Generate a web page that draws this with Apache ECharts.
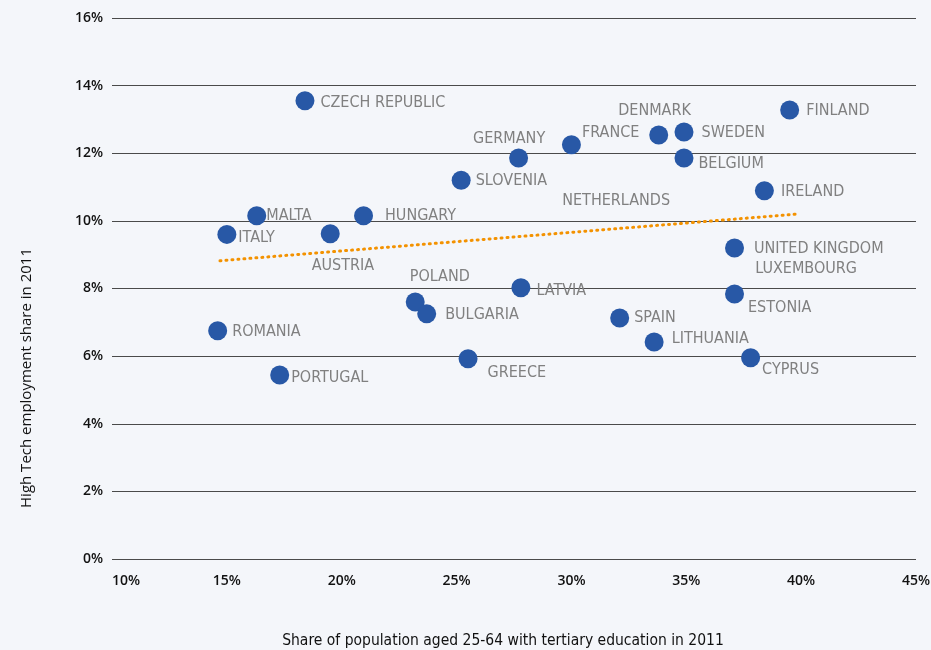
<!DOCTYPE html>
<html>
<head>
<meta charset="utf-8">
<script src="https://cdn.jsdelivr.net/npm/echarts@6/dist/echarts.min.js"></script>
<style>
  html, body { margin: 0; padding: 0; background: #f4f6fa; }
  #main { width: 931px; height: 650px; }
</style>
</head>
<body>
<div id="main"></div>
<script>
// countries, tertiary education share (x) and high tech employment share (y)
var countries = ['CZECH REPUBLIC', 'MALTA', 'ITALY', 'AUSTRIA', 'HUNGARY', 'SLOVENIA', 'GERMANY',
    'FRANCE', 'DENMARK', 'SWEDEN', 'BELGIUM', 'FINLAND', 'IRELAND', 'UNITED KINGDOM', 'ESTONIA',
    'CYPRUS', 'LITHUANIA', 'SPAIN', 'LATVIA', 'POLAND', 'BULGARIA', 'GREECE', 'ROMANIA', 'PORTUGAL'];
var tertiary = [18.4, 16.3, 15.0, 19.5, 20.95, 25.2, 27.7,
    30.0, 33.8, 34.9, 34.9, 39.5, 38.4, 37.1, 37.1,
    37.8, 33.6, 32.1, 27.8, 23.2, 23.7, 25.5, 14.6, 17.3];
var highTech = [13.55, 10.15, 9.6, 9.62, 10.15, 11.2, 11.86,
    12.25, 12.54, 12.63, 11.86, 13.28, 10.89, 9.2, 7.84,
    5.95, 6.42, 7.13, 8.02, 7.6, 7.25, 5.92, 6.75, 5.44];

// labels shown without a marker
var extraNames = ['NETHERLANDS', 'LUXEMBOURG'];
var extraX = [29.6, 38.0];
var extraY = [10.59, 8.58];

// trend line end points
var trendX = [14.7, 39.8];
var trendY = [8.82, 10.2];

var xTicks = { min: 10, max: 45, step: 5 };
var yTicks = { min: 0, max: 16, step: 2 };

// label offsets [dx, dy] relative to the default right placement
var labelShift = {
    'CZECH REPUBLIC': [1, 2], 'MALTA': [-5, 0], 'ITALY': [-3, 3], 'AUSTRIA': [-33, 32],
    'HUNGARY': [7, 0], 'SLOVENIA': [0, 1], 'GERMANY': [-60, -19], 'FRANCE': [-4, -12],
    'DENMARK': [-55, -24], 'SWEDEN': [3, 1], 'BELGIUM': [0, 6], 'FINLAND': [2, 1],
    'IRELAND': [2, 1], 'UNITED KINGDOM': [5, 1], 'ESTONIA': [-1, 14], 'CYPRUS': [-3, 12],
    'LITHUANIA': [3, -3], 'SPAIN': [0, 0], 'LATVIA': [1, 3], 'POLAND': [-20, -25],
    'BULGARIA': [4, 1], 'GREECE': [5, 14], 'ROMANIA': [0, 1], 'PORTUGAL': [-3, 3]
};

var labelFont = {
    color: '#808080',
    fontFamily: 'Liberation Sans Narrow, DejaVu Sans Condensed, sans-serif',
    fontSize: 16
};

var points = [];
countries.forEach(function (name, i) {
    var s = labelShift[name] || [0, 0];
    points.push({
        name: name,
        value: [tertiary[i], highTech[i]],
        label: { offset: s }
    });
});

var extras = extraNames.map(function (name, i) {
    return { name: name, value: [extraX[i], extraY[i]] };
});

var myChart = echarts.init(document.getElementById('main'));

var option = {
    backgroundColor: '#f4f6fa',
    animation: false,
    grid: { left: 112, right: 15, top: 18, bottom: 91, outerBoundsMode: 'none', containLabel: false },
    xAxis: {
        type: 'value',
        min: xTicks.min,
        max: xTicks.max,
        interval: xTicks.step,
        name: 'Share of population aged 25-64 with tertiary education in 2011',
        nameLocation: 'middle',
        nameGap: 74,
        nameTextStyle: {
            color: '#111',
            fontFamily: 'Liberation Sans Narrow, DejaVu Sans Condensed, sans-serif',
            fontSize: 15.5,
            padding: [0, 22, 0, 0]
        },
        axisLine: { show: false },
        axisTick: { show: false },
        splitLine: { show: false },
        axisLabel: {
            formatter: '{value}%',
            margin: 15,
            color: '#111',
            fontFamily: 'Open Sans, sans-serif',
            fontWeight: 600,
            fontSize: 14,
            alignMinLabel: 'left'
        }
    },
    yAxis: {
        type: 'value',
        min: yTicks.min,
        max: yTicks.max,
        interval: yTicks.step,
        axisLine: { show: false },
        axisTick: { show: false },
        splitLine: { lineStyle: { color: '#4a4a4a', width: 1 } },
        axisLabel: {
            formatter: '{value}%',
            margin: 9,
            color: '#111',
            fontFamily: 'Open Sans, sans-serif',
            fontWeight: 600,
            fontSize: 14
        }
    },
    graphic: [{
        type: 'text',
        x: 27,
        y: 378,
        rotation: Math.PI / 2,
        style: {
            text: 'High Tech employment share in 2011',
            fill: '#111',
            font: '15px "Open Sans", sans-serif',
            align: 'center',
            verticalAlign: 'middle'
        }
    }],
    series: [{
        type: 'line',
        data: trendX.map(function (x, i) { return [x, trendY[i]]; }),
        symbol: 'none',
        silent: true,
        lineStyle: { color: '#f39200', width: 3, type: [1, 5], cap: 'round' },
        z: 1
    }, {
        type: 'scatter',
        data: points,
        symbolSize: 19,
        itemStyle: { color: '#2858a6', opacity: 1 },
        label: Object.assign({
            show: true,
            position: 'right',
            distance: 5,
            formatter: '{b}'
        }, labelFont),
        z: 3
    }, {
        type: 'scatter',
        data: extras,
        symbolSize: 0,
        itemStyle: { opacity: 1 },
        label: Object.assign({
            show: true,
            position: 'right',
            distance: 0,
            formatter: '{b}'
        }, labelFont),
        z: 2
    }]
};

myChart.setOption(option);
</script>
</body>
</html>
